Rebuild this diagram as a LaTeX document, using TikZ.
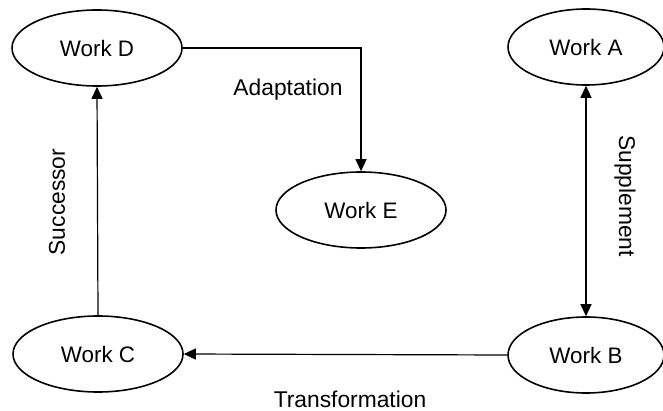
\documentclass[tikz,border=0pt]{standalone}
\usepackage{fontspec}
\setmainfont{Liberation Sans}
\usetikzlibrary{shapes.geometric,arrows.meta}
\begin{document}
\begin{tikzpicture}[x=0.5pt,y=-0.5pt,
  work/.style={ellipse,draw,line width=0.8pt,minimum width=85pt,minimum height=38pt,inner sep=0pt,font=\fontsize{11.2}{13}\selectfont},
  tip/.tip={Triangle[length=6pt,width=5.5pt]},
  conn/.style={line width=0.6pt,-tip},
  lbl/.style={font=\fontsize{11.4}{13}\selectfont,inner sep=0pt}]
\useasboundingbox (0,0) rectangle (663,411);
\node[work] (D) at (97,48) {Work D};
\node[work,minimum width=78pt] (A) at (586,47) {Work A};
\node[work] (E) at (361,210) {Work E};
\node[work] (C) at (98,354) {Work C};
\node[work,minimum width=78pt] (B) at (586,355) {Work B};
\draw[conn] (D.east) -| (E.north);
\draw[conn] (C.north) -- (D.south);
\draw[conn] (B.west) -- (C.east);
\draw[line width=0.6pt,tip-tip] (A.south) -- (B.north);
\node[lbl] (ad) at (288,90) {Adaptation};
\node[lbl] (tr) at (350,399) {Transformation};
\node[lbl,rotate=90] (su) at (57,202) {Successor};
\node[lbl,rotate=-90] (sp) at (625,196) {Supplement};
\end{tikzpicture}
\end{document}
